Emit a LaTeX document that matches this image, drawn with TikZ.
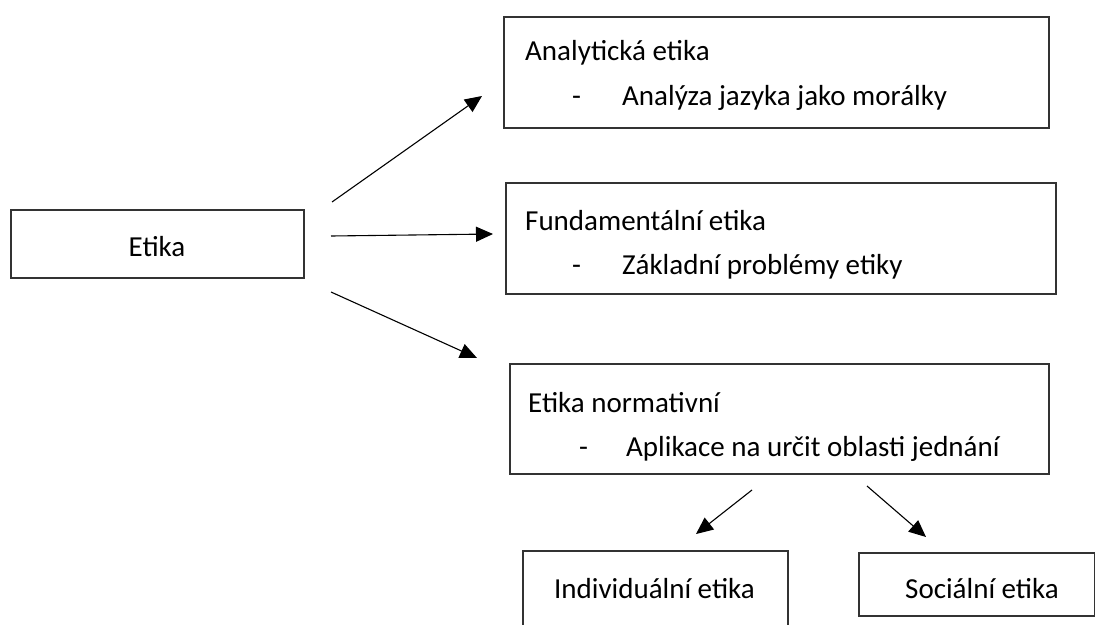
\documentclass[tikz,border=0pt]{standalone}
\usepackage{fontspec}
\setmainfont{Carlito}
\usetikzlibrary{arrows.meta}
\begin{document}
\begin{tikzpicture}[x=1pt,y=-1pt,
  box/.style={draw=black!80,line width=1.6pt,rectangle,anchor=north west,inner sep=0pt},
  txt/.style={anchor=base west,inner sep=0pt,font=\fontsize{29}{34}\selectfont},
  ctxt/.style={anchor=base,inner sep=0pt,font=\fontsize{29}{34}\selectfont},
  conn/.style={line width=1.1pt,-{Triangle[length=17pt,width=15pt]}}]
\useasboundingbox (0,0) rectangle (1095,624);
% boxes
\node[box,minimum width=293pt,minimum height=68pt] (etika) at (10,209) {};
\node[box,minimum width=545pt,minimum height=111pt] (anal) at (503,16) {};
\node[box,minimum width=550pt,minimum height=111pt] (fund) at (505,182) {};
\node[box,minimum width=539pt,minimum height=110pt] (norm) at (509,363) {};
\node[box,minimum width=265pt,minimum height=95pt] (indiv) at (522,550) {};
\node[box,minimum width=236pt,minimum height=63pt] (soc) at (858,552) {};
% texts
\node[ctxt] (tetika) at (157,256) {Etika};
\node[txt] (tanal1) at (525,60) {Analytická etika};
\node[txt] (tanal2d) at (572,105) {-};
\node[txt] (tanal2) at (622,105) {Analýza jazyka jako morálky};
\node[txt] (tfund1) at (525,230) {Fundamentální etika};
\node[txt] (tfund2d) at (572,274) {-};
\node[txt] (tfund2) at (622,274) {Základní problémy etiky};
\node[txt] (tnorm1) at (528,412) {Etika normativní};
\node[txt] (tnorm2d) at (579,456) {-};
\node[txt] (tnorm2) at (626,456) {Aplikace na určit oblasti jednání};
\node[ctxt] (tindiv) at (654.5,598) {Individuální etika};
\node[ctxt] (tsoc) at (982,598) {Sociální etika};
% connector end points
\coordinate (a1s) at (332,202);
\coordinate (a1e) at (482,96);
\coordinate (a2s) at (331,236);
\coordinate (a2e) at (493,234);
\coordinate (a3s) at (331,292);
\coordinate (a3e) at (477,358);
\coordinate (a4s) at (752,490);
\coordinate (a4e) at (696,534);
\coordinate (a5s) at (867,486);
\coordinate (a5e) at (926,537);
\draw[conn] (a1s) -- (a1e);
\draw[conn] (a2s) -- (a2e);
\draw[conn] (a3s) -- (a3e);
\draw[conn] (a4s) -- (a4e);
\draw[conn] (a5s) -- (a5e);
\end{tikzpicture}
\end{document}
